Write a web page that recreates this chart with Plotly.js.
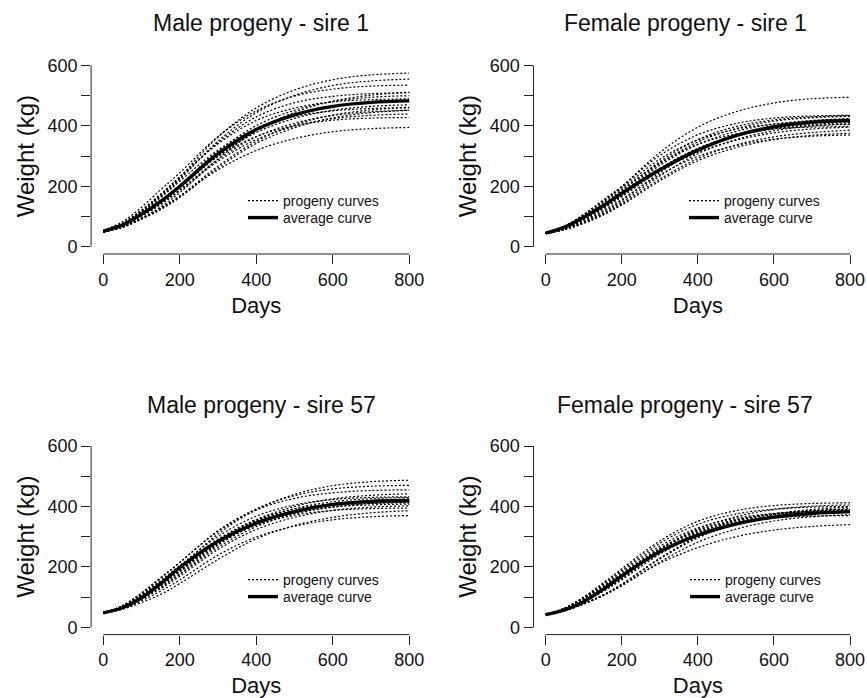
<!DOCTYPE html>
<html>
<head>
<meta charset="utf-8">
<script src="https://cdn.plot.ly/plotly-3.0.1.min.js"></script>
<style>
  html, body { margin: 0; padding: 0; background: #fff; }
  #chart { width: 867px; height: 698px; }
</style>
</head>
<body>
<div id="chart"></div>
<script>
// ---------- data ----------
const days = [0, 50, 100, 150, 200, 300, 400, 500, 600, 700, 800];

const panelTitles = [
  "Male progeny - sire 1",
  "Female progeny - sire 1",
  "Male progeny - sire 57",
  "Female progeny - sire 57"
];

const xTickVals = [0, 200, 400, 600, 800];
const yTickVals = [0, 100, 200, 300, 400, 500, 600];
const yTickText = ["0", "", "200", "", "400", "", "600"];

const maleSire1Progeny = [
  [52, 76, 120, 171, 231, 363, 460, 519, 553, 569, 575],
  [50, 73, 116, 165, 223, 350, 444, 501, 534, 549, 555],
  [54, 83, 131, 189, 245, 365, 450, 499, 522, 532, 535],
  [48, 64, 95, 132, 179, 291, 384, 445, 482, 502, 512],
  [50, 75, 118, 170, 226, 345, 430, 477, 498, 507, 510],
  [50, 71, 109, 152, 204, 317, 401, 452, 481, 495, 500],
  [52, 78, 122, 175, 232, 341, 418, 459, 480, 487, 490],
  [50, 69, 105, 145, 194, 300, 378, 425, 452, 465, 470],
  [52, 66, 93, 126, 168, 267, 349, 403, 436, 453, 462],
  [48, 73, 114, 163, 217, 320, 392, 431, 450, 458, 460],
  [50, 64, 91, 123, 163, 261, 342, 394, 427, 444, 452],
  [50, 69, 102, 141, 188, 289, 364, 409, 435, 447, 452],
  [52, 70, 102, 140, 185, 283, 355, 399, 424, 435, 440],
  [48, 71, 109, 154, 204, 299, 365, 401, 419, 426, 428],
  [50, 66, 95, 128, 168, 255, 319, 358, 381, 391, 395]
];
const maleSire1Average = [52, 72, 108, 150, 200, 308, 388, 437, 465, 478, 483];

const femaleSire1Progeny = [
  [45, 66, 104, 147, 199, 312, 396, 447, 476, 490, 495],
  [44, 68, 107, 154, 200, 302, 371, 408, 426, 433, 435],
  [45, 64, 98, 138, 184, 282, 355, 398, 420, 430, 434],
  [46, 59, 84, 115, 153, 245, 321, 371, 401, 417, 425],
  [45, 62, 94, 131, 174, 269, 339, 382, 406, 418, 422],
  [47, 69, 106, 150, 194, 290, 354, 389, 406, 413, 415],
  [46, 63, 94, 130, 170, 258, 325, 367, 392, 405, 411],
  [44, 57, 81, 110, 147, 234, 308, 355, 384, 400, 407],
  [45, 62, 92, 127, 169, 259, 326, 367, 390, 401, 405],
  [43, 64, 100, 142, 189, 277, 339, 373, 390, 396, 398],
  [44, 60, 90, 125, 165, 250, 312, 352, 377, 390, 396],
  [46, 58, 80, 108, 142, 224, 292, 337, 364, 378, 386],
  [44, 56, 77, 104, 138, 218, 285, 328, 355, 369, 376],
  [45, 60, 87, 119, 157, 238, 299, 335, 356, 366, 370],
  [45, 63, 95, 133, 178, 275, 347, 391, 416, 427, 432]
];
const femaleSire1Average = [45, 65, 98, 135, 177, 255, 320, 368, 397, 412, 418];

const maleSire57Progeny = [
  [48, 68, 105, 148, 199, 309, 390, 440, 469, 482, 487],
  [46, 71, 114, 165, 215, 320, 392, 436, 458, 467, 470],
  [48, 72, 113, 162, 215, 317, 388, 427, 445, 453, 455],
  [50, 68, 101, 139, 184, 283, 356, 400, 425, 437, 442],
  [47, 70, 109, 155, 205, 301, 368, 405, 423, 430, 432],
  [47, 67, 101, 143, 190, 285, 352, 393, 416, 426, 430],
  [48, 65, 97, 134, 177, 272, 342, 385, 409, 420, 425],
  [46, 68, 106, 150, 199, 292, 357, 392, 409, 416, 418],
  [48, 64, 95, 132, 175, 265, 333, 375, 398, 410, 415],
  [49, 71, 107, 151, 198, 289, 352, 387, 403, 410, 412],
  [46, 65, 100, 140, 185, 275, 340, 378, 398, 405, 408],
  [47, 63, 93, 128, 169, 258, 324, 364, 387, 398, 402],
  [47, 68, 103, 144, 190, 277, 338, 371, 387, 393, 395],
  [48, 60, 82, 109, 145, 225, 293, 337, 364, 379, 386],
  [46, 61, 88, 120, 157, 239, 299, 335, 356, 366, 370]
];
const maleSire57Average = [48, 65, 98, 145, 198, 285, 345, 383, 407, 417, 420];

const femaleSire57Progeny = [
  [42, 64, 101, 146, 194, 286, 351, 386, 403, 410, 412],
  [44, 61, 91, 126, 168, 258, 326, 366, 390, 401, 405],
  [41, 63, 98, 142, 188, 278, 341, 375, 391, 398, 400],
  [43, 56, 79, 107, 143, 229, 300, 347, 375, 390, 398],
  [43, 55, 78, 106, 142, 226, 296, 342, 370, 385, 393],
  [42, 58, 87, 121, 161, 249, 313, 353, 375, 386, 390],
  [42, 59, 88, 124, 165, 250, 312, 352, 374, 385, 390],
  [43, 60, 92, 130, 172, 258, 320, 356, 376, 385, 388],
  [43, 64, 98, 139, 183, 269, 329, 361, 377, 383, 385],
  [44, 62, 95, 134, 177, 262, 322, 356, 374, 380, 382],
  [41, 57, 85, 118, 157, 242, 305, 344, 366, 376, 380],
  [44, 56, 77, 104, 137, 216, 282, 325, 352, 366, 373],
  [42, 62, 95, 134, 177, 259, 316, 347, 362, 368, 370],
  [42, 55, 78, 105, 140, 212, 264, 300, 322, 334, 340]
];
const femaleSire57Average = [42, 58, 85, 125, 170, 250, 305, 342, 365, 377, 383];

const progenySets = [maleSire1Progeny, femaleSire1Progeny, maleSire57Progeny, femaleSire57Progeny];
const averageSets = [maleSire1Average, femaleSire1Average, maleSire57Average, femaleSire57Average];

// ---------- layout geometry ----------
const FONT = "Liberation Sans, Arial, Helvetica, sans-serif";
const W = 867, H = 698;
const xDomL = [91.1 / W, 421.5 / W];
const xDomR = [533.5 / W, 862.2 / W];
const yDomT = [1 - 254.0 / H, 1 - 58.3 / H];
const yDomB = [1 - 634.6 / H, 1 - 438.8 / H];
const panels = [
  { xd: xDomL, yd: yDomT, tx: 261, ty: 23, lx: 243, ly1: 185, ly2: 202 },
  { xd: xDomR, yd: yDomT, tx: 685, ty: 23, lx: 684, ly1: 185, ly2: 202 },
  { xd: xDomL, yd: yDomB, tx: 261, ty: 405, lx: 243, ly1: 564, ly2: 581 },
  { xd: xDomR, yd: yDomB, tx: 685, ty: 405, lx: 685, ly1: 564, ly2: 581 }
];

const traces = [];
const layout = {
  width: W, height: H,
  margin: { l: 0, r: 0, t: 0, b: 0 },
  paper_bgcolor: "#fff", plot_bgcolor: "#fff",
  font: { family: FONT, color: "#000" },
  showlegend: true,
  annotations: [], shapes: []
};

function legendBox(x, y) {
  return {
    x: x / W, y: 1 - y / H, xanchor: "left", yanchor: "top",
    bgcolor: "rgba(0,0,0,0)", borderwidth: 0,
    font: { family: FONT, size: 14, color: "#111" },
    tracegroupgap: 0, itemwidth: 30, traceorder: "normal"
  };
}

panels.forEach((p, i) => {
  const n = i + 1;
  const xa = n === 1 ? "x" : "x" + n;
  const ya = n === 1 ? "y" : "y" + n;
  const xKey = n === 1 ? "xaxis" : "xaxis" + n;
  const yKey = n === 1 ? "yaxis" : "yaxis" + n;
  const lgA = i === 0 ? "legend" : "legend" + (2 * i + 1);
  const lgB = "legend" + (2 * i + 2);

  progenySets[i].forEach((vals, k) => {
    traces.push({
      type: "scatter", mode: "lines", x: days, y: vals,
      xaxis: xa, yaxis: ya, legend: lgA,
      name: "progeny curves", showlegend: k === 0,
      line: { color: "#000", width: 1.2, dash: "2px,2px", shape: "spline" },
      hoverinfo: "skip"
    });
  });
  traces.push({
    type: "scatter", mode: "lines", x: days, y: averageSets[i],
    xaxis: xa, yaxis: ya, legend: lgB,
    name: "average curve", showlegend: true,
    line: { color: "#000", width: 3.4, shape: "spline" },
    hoverinfo: "skip"
  });

  layout[xKey] = {
    domain: p.xd, anchor: ya, range: [-32, 832],
    tickvals: xTickVals, ticks: "outside", ticklen: 9, tickwidth: 1, tickcolor: "#222",
    showgrid: false, zeroline: false, showline: false,
    tickfont: { family: FONT, size: 18, color: "#111" },
    title: { text: "Days", font: { family: FONT, size: 22, color: "#111" }, standoff: 9 }
  };
  layout[yKey] = {
    domain: p.yd, anchor: xa, range: [-24, 624],
    tickvals: yTickVals, ticktext: yTickText, ticks: "outside", ticklen: 9, tickwidth: 1, tickcolor: "#222",
    showgrid: false, zeroline: false, showline: false,
    tickfont: { family: FONT, size: 18, color: "#111" },
    title: { text: "Weight (kg)", font: { family: FONT, size: 24, color: "#111" }, standoff: 6 }
  };
  layout[lgA] = legendBox(p.lx, p.ly1);
  layout[lgB] = legendBox(p.lx, p.ly2);

  // axis lines spanning only the data range, R style
  layout.shapes.push({
    type: "line", xref: xa, yref: ya + " domain",
    x0: xTickVals[0], x1: xTickVals[xTickVals.length - 1], y0: 0, y1: 0,
    line: { color: "#222", width: 1 }
  });
  layout.shapes.push({
    type: "line", xref: xa + " domain", yref: ya,
    x0: 0, x1: 0, y0: yTickVals[0], y1: yTickVals[yTickVals.length - 1],
    line: { color: "#222", width: 1 }
  });

  layout.annotations.push({
    text: panelTitles[i], xref: "paper", yref: "paper",
    x: p.tx / W, y: 1 - p.ty / H, xanchor: "center", yanchor: "middle",
    showarrow: false, font: { family: FONT, size: 23, color: "#111" }
  });
});

Plotly.newPlot("chart", traces, layout, { staticPlot: true });
</script>
</body>
</html>
